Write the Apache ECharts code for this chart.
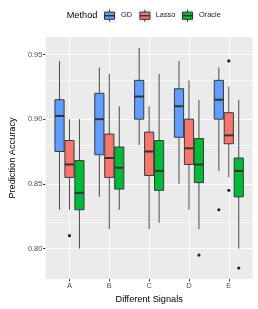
<!DOCTYPE html>
<html><head><meta charset="utf-8">
<script src="https://cdn.jsdelivr.net/npm/echarts@6/dist/echarts.min.js"></script>
<style>html,body{margin:0;padding:0;background:#fff}#c{width:258px;height:309px}</style>
</head><body><div id="c"></div>
<script>
// ---- data ----
const categories = ['A', 'B', 'C', 'D', 'E'];
const methods = ['GD', 'Lasso', 'Oracle'];
// [lower whisker, Q1, median, Q3, upper whisker]
const gdStats = [
  [0.830, 0.875, 0.9025, 0.915, 0.945],
  [0.840, 0.8725, 0.900, 0.920, 0.940],
  [0.880, 0.900, 0.9175, 0.930, 0.955],
  [0.850, 0.886, 0.910, 0.9235, 0.945],
  [0.860, 0.900, 0.915, 0.930, 0.940]
];
const lassoStats = [
  [0.830, 0.855, 0.865, 0.8835, 0.900],
  [0.815, 0.855, 0.870, 0.8885, 0.935],
  [0.815, 0.8565, 0.875, 0.890, 0.910],
  [0.830, 0.865, 0.8775, 0.900, 0.930],
  [0.855, 0.881, 0.8875, 0.905, 0.925]
];
const oracleStats = [
  [0.800, 0.830, 0.843, 0.868, 0.900],
  [0.830, 0.846, 0.8625, 0.8785, 0.910],
  [0.820, 0.845, 0.860, 0.8835, 0.935],
  [0.815, 0.851, 0.865, 0.885, 0.915],
  [0.800, 0.840, 0.860, 0.870, 0.915]
];
// [category index, value]
const gdOutliers = [[4, 0.830]];
const lassoOutliers = [[0, 0.810], [4, 0.945], [4, 0.845]];
const oracleOutliers = [[3, 0.795], [4, 0.785]];
const yTicks = [0.80, 0.85, 0.90, 0.95];
const yMinorTicks = [0.825, 0.875, 0.925];

// ---- styles ----
const colors = ['#619CFF', '#F8766D', '#00BA38'];
const FONT = '"Liberation Sans", Arial, sans-serif';
const allStats = [gdStats, lassoStats, oracleStats];
const allOutliers = [gdOutliers, lassoOutliers, oracleOutliers];

function boxRenderer(mi) {
  return function (params, api) {
    const x = api.value(0);
    const unit = api.size([1, 0])[0];
    const cx = api.coord([x, api.value(3)])[0] + (mi - 1) * 0.25 * unit;
    const w = 0.25 * unit - 0.8;
    const y = k => api.coord([x, api.value(k)])[1];
    const yLo = y(1), yQ1 = y(2), yMd = y(3), yQ3 = y(4), yHi = y(5);
    const ls = { stroke: '#4a4a4a', lineWidth: 1 };
    return {
      type: 'group', children: [
        { type: 'line', shape: { x1: cx, y1: yHi, x2: cx, y2: yQ3 }, style: ls },
        { type: 'line', shape: { x1: cx, y1: yQ1, x2: cx, y2: yLo }, style: ls },
        { type: 'rect', shape: { x: cx - w / 2, y: yQ3, width: w, height: yQ1 - yQ3 },
          style: { fill: colors[mi], stroke: '#3a3a3a', lineWidth: 1 } },
        { type: 'line', shape: { x1: cx - w / 2, y1: yMd, x2: cx + w / 2, y2: yMd },
          style: { stroke: '#333333', lineWidth: 2 } }
      ]
    };
  };
}
function outlierRenderer(mi) {
  return function (params, api) {
    const x = api.value(0);
    const unit = api.size([1, 0])[0];
    const p = api.coord([x, api.value(1)]);
    return { type: 'circle', shape: { cx: p[0] + (mi - 1) * 0.25 * unit, cy: p[1], r: 1.6 },
      style: { fill: '#222222' } };
  };
}

const series = [];
const gridLines = [];
yTicks.forEach(v => gridLines.push({ yAxis: v, lineStyle: { color: '#fff', width: 1.1, type: 'solid' } }));
yMinorTicks.forEach(v => gridLines.push({ yAxis: v, lineStyle: { color: '#fff', width: 0.55, type: 'solid' } }));
categories.forEach((c, i) => gridLines.push({ xAxis: i + 1, lineStyle: { color: '#fff', width: 1.1, type: 'solid' } }));

series.push({
  type: 'line', data: [], z: 1, silent: true,
  markLine: { silent: true, symbol: 'none', z: 1, animation: false, label: { show: false },
    emphasis: { disabled: true }, data: gridLines }
});
methods.forEach((m, mi) => {
  series.push({
    name: m, type: 'custom', z: 3, silent: true,
    renderItem: boxRenderer(mi),
    encode: { x: 0, y: [1, 2, 3, 4, 5] },
    data: allStats[mi].map((s, i) => [i + 1].concat(s))
  });
  series.push({
    name: m + ' outliers', type: 'custom', z: 4, silent: true,
    renderItem: outlierRenderer(mi),
    encode: { x: 0, y: 1 },
    data: allOutliers[mi].map(o => [o[0] + 1, o[1]])
  });
});

// legend (ggplot-style keys)
const legendKeyX = [102.3, 137.7, 180.3];
const legendTextX = [121, 155.7, 199];
const legendEls = [{ type: 'text', left: 66.7, top: 10.7,
  style: { text: 'Method', fontSize: 9.2, fontFamily: FONT, fill: '#000' } }];
methods.forEach((m, mi) => {
  const kx = legendKeyX[mi], ky = 8.5, ks = 14.4;
  legendEls.push({ type: 'group', x: kx, y: ky, children: [
    { type: 'rect', shape: { x: 0, y: 0, width: ks, height: ks }, style: { fill: '#F2F2F2' } },
    { type: 'line', shape: { x1: ks / 2, y1: 1.2, x2: ks / 2, y2: ks - 1.2 }, style: { stroke: '#333', lineWidth: 1 } },
    { type: 'rect', shape: { x: 2.2, y: 3.6, width: ks - 4.4, height: ks - 7.2 },
      style: { fill: colors[mi], stroke: '#333', lineWidth: 1 } },
    { type: 'line', shape: { x1: 2.2, y1: ks / 2, x2: ks - 2.2, y2: ks / 2 }, style: { stroke: '#333', lineWidth: 1.5 } }
  ]});
  legendEls.push({ type: 'text', left: legendTextX[mi], top: 11.8,
    style: { text: m, fontSize: 7.4, fontFamily: FONT, fill: '#1a1a1a' } });
});

const chart = echarts.init(document.getElementById('c'), null, { renderer: 'canvas' });
chart.setOption({
  animation: false,
  textStyle: { fontFamily: FONT },
  grid: { left: 34.3, right: 5.3, top: 37, bottom: 27, show: true, backgroundColor: '#EBEBEB', borderWidth: 0 },
  xAxis: {
    type: 'value', min: 0.4, max: 5.6,
    axisLine: { show: false },
    axisTick: { show: true, customValues: [1, 2, 3, 4, 5], length: 2.5, lineStyle: { color: '#333', width: 1 } },
    axisLabel: { customValues: [1, 2, 3, 4, 5], formatter: v => categories[Math.round(v) - 1], color: '#4D4D4D', fontSize: 7.4, margin: 3.2, fontFamily: FONT },
    splitLine: { show: false },
    name: 'Different Signals', nameLocation: 'middle', nameGap: 16,
    nameTextStyle: { fontSize: 9.2, color: '#000', fontFamily: FONT }
  },
  yAxis: {
    type: 'value', min: 0.7765, max: 0.9635,
    axisLine: { show: false },
    axisTick: { show: true, customValues: yTicks, length: 2.5, lineStyle: { color: '#333', width: 1 } },
    axisLabel: { customValues: yTicks, formatter: v => v.toFixed(2), color: '#4D4D4D', fontSize: 7.4, margin: 3.3, fontFamily: FONT },
    splitLine: { show: false },
    name: 'Prediction Accuracy', nameLocation: 'middle', nameGap: 26, nameRotate: 90,
    nameTextStyle: { fontSize: 9.2, color: '#000', fontFamily: FONT }
  },
  graphic: legendEls,
  series: series
});
</script>
</body></html>
